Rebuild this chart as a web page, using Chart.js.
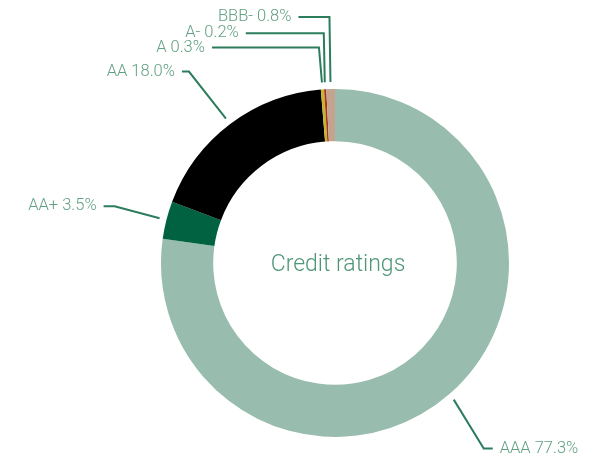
<!DOCTYPE html>
<html>
<head>
<meta charset="utf-8">
<script src="https://cdn.jsdelivr.net/npm/chart.js@4"></script>
<style>
html,body{margin:0;padding:0;background:#fff;}
#wrap{width:590px;height:455px;position:relative;}
</style>
</head>
<body>
<div id="wrap"><canvas id="c" width="590" height="455"></canvas></div>
<script>
const categories = ['AAA', 'AA+', 'AA', 'A', 'A-', 'BBB-'];
const shares = [77.3, 3.5, 18.0, 0.3, 0.2, 0.8];
const sliceColors = ['#98bcae', '#006241', '#000000', '#c9b52a', '#a8331f', '#c4a48f'];
const centerTitle = 'Credit ratings';

// leader-line elbows relative to each slice's edge point, and side of text
const leaders = [
  {dx: 30, dy: 49, h: 9, side: 'right'},
  {dx: -45, dy: -12, h: -11, side: 'left'},
  {dx: -37, dy: -47, h: -7, side: 'left'},
  {dx: -3, dy: -35, h: -107, side: 'left'},
  {dx: -1, dy: -49, h: -78, side: 'left'},
  {dx: -1, dy: -65, h: -31, side: 'left'}
];

const labelPlugin = {
  id: 'callouts',
  afterDraw(chart) {
    const ctx = chart.ctx;
    const meta = chart.getDatasetMeta(0);
    ctx.save();
    meta.data.forEach((arc, i) => {
      const p = arc.getProps(['x','y','startAngle','endAngle','outerRadius']);
      const mid = (p.startAngle + p.endAngle) / 2;
      const r = p.outerRadius + 7;
      const sx = p.x + Math.cos(mid) * r;
      const sy = p.y + Math.sin(mid) * r;
      const L = leaders[i];
      const ex = sx + L.dx, ey = sy + L.dy;
      const hx = ex + L.h;
      ctx.strokeStyle = '#2b7d5c';
      ctx.lineWidth = 2;
      ctx.beginPath();
      ctx.moveTo(sx, sy);
      ctx.lineTo(ex, ey);
      ctx.lineTo(hx, ey);
      ctx.stroke();
      ctx.fillStyle = '#62a083';
      ctx.font = '300 16.5px Roboto, "Open Sans", sans-serif';
      ctx.textBaseline = 'middle';
      const txt = categories[i] + ' ' + shares[i].toFixed(1) + '%';
      if (L.side === 'right') {
        ctx.textAlign = 'left';
        ctx.fillText(txt, hx + 7, ey);
      } else {
        ctx.textAlign = 'right';
        ctx.fillText(txt, hx - 7, ey);
      }
    });
    // center title
    const a = meta.data[0];
    ctx.fillStyle = '#4f9679';
    ctx.font = '300 23px Roboto, "Open Sans", sans-serif';
    ctx.textAlign = 'center';
    ctx.textBaseline = 'middle';
    ctx.fillText(centerTitle, a.x + 3, a.y + 2);
    ctx.restore();
  }
};

new Chart(document.getElementById('c'), {
  type: 'doughnut',
  data: {
    labels: categories,
    datasets: [{
      data: shares,
      backgroundColor: sliceColors,
      borderWidth: 0,
      hoverOffset: 0
    }]
  },
  options: {
    responsive: false,
    animation: false,
    cutout: '70%',
    layout: {padding: {left: 161, right: 81, top: 89, bottom: 18}},
    plugins: {legend: {display: false}, tooltip: {enabled: false}},
    events: []
  },
  plugins: [labelPlugin]
});
</script>
</body>
</html>
